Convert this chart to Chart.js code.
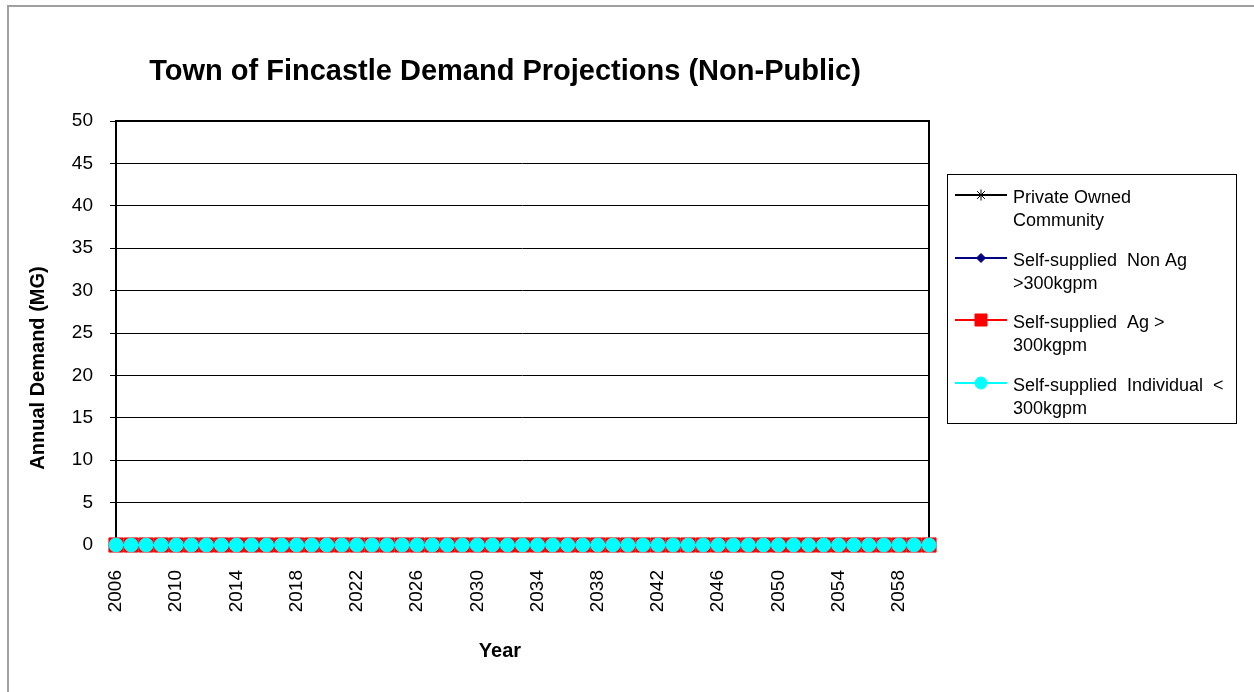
<!DOCTYPE html>
<html>
<head>
<meta charset="utf-8">
<script src="https://cdn.jsdelivr.net/npm/chart.js@4/dist/chart.umd.min.js"></script>
<style>
  html, body { margin: 0; padding: 0; background: #fff; }
  canvas { display: block; }
</style>
</head>
<body>
<canvas id="c" width="1254" height="692"></canvas>
<script>
// Projection years (one point per year)
const years = [
  2006, 2007, 2008, 2009, 2010, 2011, 2012, 2013, 2014, 2015,
  2016, 2017, 2018, 2019, 2020, 2021, 2022, 2023, 2024, 2025,
  2026, 2027, 2028, 2029, 2030, 2031, 2032, 2033, 2034, 2035,
  2036, 2037, 2038, 2039, 2040, 2041, 2042, 2043, 2044, 2045,
  2046, 2047, 2048, 2049, 2050, 2051, 2052, 2053, 2054, 2055,
  2056, 2057, 2058, 2059, 2060
];

// Years that get a printed label on the x axis
const yearTicks = [2006, 2010, 2014, 2018, 2022, 2026, 2030, 2034, 2038, 2042, 2046, 2050, 2054, 2058];

// Annual demand (MG) per category
const privateOwned = [
  0, 0, 0, 0, 0, 0, 0, 0, 0, 0,
  0, 0, 0, 0, 0, 0, 0, 0, 0, 0,
  0, 0, 0, 0, 0, 0, 0, 0, 0, 0,
  0, 0, 0, 0, 0, 0, 0, 0, 0, 0,
  0, 0, 0, 0, 0, 0, 0, 0, 0, 0,
  0, 0, 0, 0, 0
];
const selfNonAg = [
  0, 0, 0, 0, 0, 0, 0, 0, 0, 0,
  0, 0, 0, 0, 0, 0, 0, 0, 0, 0,
  0, 0, 0, 0, 0, 0, 0, 0, 0, 0,
  0, 0, 0, 0, 0, 0, 0, 0, 0, 0,
  0, 0, 0, 0, 0, 0, 0, 0, 0, 0,
  0, 0, 0, 0, 0
];
const selfAg = [
  0, 0, 0, 0, 0, 0, 0, 0, 0, 0,
  0, 0, 0, 0, 0, 0, 0, 0, 0, 0,
  0, 0, 0, 0, 0, 0, 0, 0, 0, 0,
  0, 0, 0, 0, 0, 0, 0, 0, 0, 0,
  0, 0, 0, 0, 0, 0, 0, 0, 0, 0,
  0, 0, 0, 0, 0
];
const selfIndividual = [
  0, 0, 0, 0, 0, 0, 0, 0, 0, 0,
  0, 0, 0, 0, 0, 0, 0, 0, 0, 0,
  0, 0, 0, 0, 0, 0, 0, 0, 0, 0,
  0, 0, 0, 0, 0, 0, 0, 0, 0, 0,
  0, 0, 0, 0, 0, 0, 0, 0, 0, 0,
  0, 0, 0, 0, 0
];

// Series names, and how they break across lines in the legend box
const seriesNames = [
  'Private Owned Community',
  'Self-supplied Non Ag >300kgpm',
  'Self-supplied Ag > 300kgpm',
  'Self-supplied Individual < 300kgpm'
];
const legendLines = [
  ['Private Owned', 'Community'],
  ['Self-supplied  Non Ag', '>300kgpm'],
  ['Self-supplied  Ag >', '300kgpm'],
  ['Self-supplied  Individual  <', '300kgpm']
];

const chartTitle = 'Town of Fincastle Demand Projections (Non-Public)';
const xTitle = 'Year';
const yTitle = 'Annual Demand (MG)';

const FONT = '"Liberation Sans", Arial, Helvetica, sans-serif';

const seriesStyles = [
  { color: '#000000', pointStyle: 'star',    radius: 5,   legendRadius: 5.5 },
  { color: '#000080', pointStyle: 'rectRot', radius: 5,   legendRadius: 4.5 },
  { color: '#ff0000', pointStyle: 'rect',    radius: 10,  legendRadius: 8.5 },
  { color: '#00ffff', pointStyle: 'circle',  radius: 7,   legendRadius: 6 }
];
const seriesData = [privateOwned, selfNonAg, selfAg, selfIndividual];

function drawMarker(ctx, style, radius, x, y) {
  ctx.save();
  ctx.fillStyle = style.color;
  ctx.strokeStyle = style.color;
  ctx.lineWidth = 1;
  if (Chart.helpers && Chart.helpers.drawPoint) {
    Chart.helpers.drawPoint(ctx, { pointStyle: style.pointStyle, radius: radius, rotation: 0, borderWidth: 1 }, x, y);
  } else {
    ctx.beginPath();
    ctx.arc(x, y, radius, 0, Math.PI * 2);
    ctx.fill();
  }
  ctx.restore();
}

// Page frame, plot border, titles and the boxed legend
const decor = {
  id: 'decor',
  beforeDraw(chart) {
    const ctx = chart.ctx;
    ctx.save();
    ctx.fillStyle = '#ffffff';
    ctx.fillRect(0, 0, chart.width, chart.height);
    ctx.fillStyle = '#a0a0a0';
    ctx.fillRect(7, 5, chart.width - 7, 2);
    ctx.fillRect(7, 5, 2, chart.height - 5);
    ctx.restore();
  },
  beforeDatasetsDraw(chart) {
    const ctx = chart.ctx;
    const a = chart.chartArea;
    ctx.save();
    ctx.strokeStyle = '#000000';
    ctx.lineWidth = 2;
    ctx.strokeRect(a.left, a.top, a.right - a.left, a.bottom - a.top);
    ctx.restore();
  },
  afterDraw(chart) {
    const ctx = chart.ctx;
    ctx.save();
    ctx.fillStyle = '#000000';

    // chart title
    ctx.font = 'bold 29px ' + FONT;
    ctx.textAlign = 'center';
    ctx.textBaseline = 'alphabetic';
    ctx.fillText(chartTitle, 505, 80);

    // axis titles
    ctx.font = 'bold 20px ' + FONT;
    ctx.textBaseline = 'middle';
    ctx.fillText(xTitle, 500, 651);
    ctx.save();
    ctx.translate(38, 368);
    ctx.rotate(-Math.PI / 2);
    ctx.fillText(yTitle, 0, 0);
    ctx.restore();

    // legend box
    ctx.strokeStyle = '#000000';
    ctx.lineWidth = 1;
    ctx.strokeRect(947.5, 174.5, 289, 249);
    ctx.font = '18px ' + FONT;
    ctx.textAlign = 'left';
    ctx.textBaseline = 'alphabetic';
    legendLines.forEach((lines, i) => {
      const st = seriesStyles[i];
      const y = 195 + i * 62.7;
      ctx.strokeStyle = st.color;
      ctx.lineWidth = 2;
      ctx.beginPath();
      ctx.moveTo(955, Math.round(y));
      ctx.lineTo(1007, Math.round(y));
      ctx.stroke();
      drawMarker(ctx, st, st.legendRadius, 981, Math.round(y));
      ctx.fillStyle = '#000000';
      lines.forEach((t, k) => ctx.fillText(t, 1013, y + 8 + k * 23));
    });
    ctx.restore();
  }
};

const datasets = seriesData.map((d, i) => ({
  label: seriesNames[i],
  data: d,
  borderColor: seriesStyles[i].color,
  backgroundColor: seriesStyles[i].color,
  borderWidth: 2,
  pointStyle: seriesStyles[i].pointStyle,
  pointRadius: seriesStyles[i].radius,
  pointBorderWidth: 1,
  pointBorderColor: seriesStyles[i].color,
  pointBackgroundColor: seriesStyles[i].color,
  order: 4 - i,
  clip: false
}));

new Chart(document.getElementById('c'), {
  type: 'line',
  data: { labels: years, datasets: datasets },
  plugins: [decor],
  options: {
    responsive: false,
    animation: false,
    layout: { padding: { left: 0, top: 121, right: 325, bottom: 0 } },
    plugins: {
      legend: { display: false },
      title: { display: false },
      tooltip: { enabled: false }
    },
    scales: {
      x: {
        type: 'category',
        offset: false,
        grid: { display: false, drawTicks: false },
        border: { display: false },
        ticks: {
          autoSkip: false,
          minRotation: 90,
          maxRotation: 90,
          padding: 25,
          color: '#000000',
          font: { family: FONT, size: 19 },
          callback: function (value, index) {
            const y = years[index];
            return yearTicks.includes(y) ? String(y) : '';
          }
        },
        afterFit: function (scale) { scale.height = 147; }
      },
      y: {
        min: 0,
        max: 50,
        grid: { color: '#000000', lineWidth: 1, drawTicks: true, tickLength: 6 },
        border: { display: false },
        ticks: {
          stepSize: 5,
          padding: 17,
          color: '#000000',
          font: { family: FONT, size: 19 }
        },
        afterFit: function (scale) { scale.width = 116; }
      }
    }
  }
});
</script>
</body>
</html>
